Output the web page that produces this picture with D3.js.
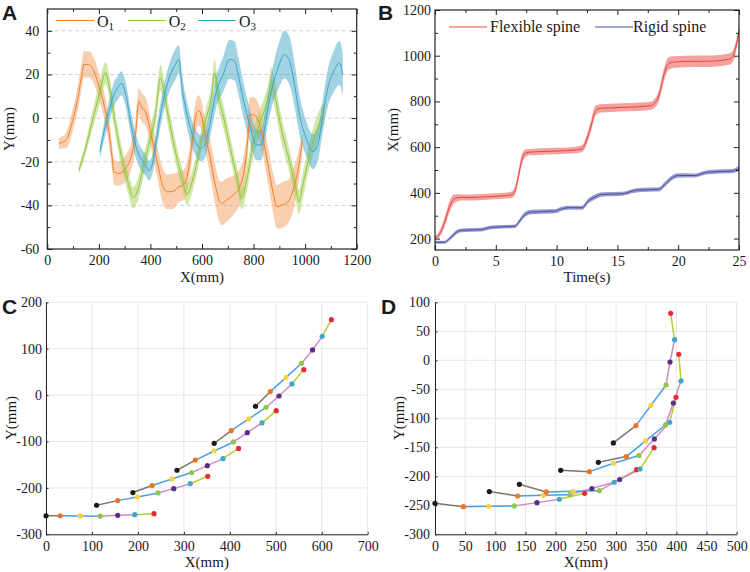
<!DOCTYPE html>
<html><head><meta charset="utf-8">
<script src="https://cdn.jsdelivr.net/npm/d3@7"></script>
<style>
body{margin:0;background:#fff}
svg{display:block}
text{font-family:"Liberation Serif","Times New Roman",serif;fill:#1a1a1a}
.plab{font-family:"Liberation Sans",Arial,sans-serif;font-weight:bold;font-size:21px}
</style>
</head><body>
<svg id="c" width="750" height="572"></svg>
<script>
// ---------------- Panel A data ----------------
const o1X = [45,65,78,97,116,132,142,161,181,200,220,239,252,258,278,303,323,342,355,368,381,400,426,452,465,490,510,529,550,565,578,588,598,611,630,649,669,675,694,720,746,765,778,785,798,817,836,856,875,891,907,933,959,978,989];
const o1Y = [-11.5,-10.8,-9.2,-1.6,7.7,18.4,24.6,24.6,21.5,14.6,6.1,-6.2,-18.5,-24.6,-25.4,-23.1,-18.5,-7.7,7.7,4.6,3.0,-6.2,-20,-32.3,-33.8,-33.5,-31.5,-30.7,-22,-8,2,3.5,1,-7,-17,-29.2,-38.4,-39.2,-37.7,-35.4,-31.5,-23,-9.2,1.5,1.5,-0.8,-9.2,-21.5,-33.8,-40.7,-40,-38.4,-30.7,-20,-10.8];
const o1W = [2.5,3,4,5,5.5,6,6,6,6,6,6,6,6,6,5.5,6,6,6.5,6,6.5,6.5,6.5,7,8,8,8,7,7,7,7,7,7,7,7,8,9,9.5,10,10,9,8,8,8,8,8,8,8,8.5,9,10,10.5,10,9,7,5];
const o2X = [122.7,148.5,174,200,226,239,258,284,316,333,348.5,374,400,419.5,439,452,471,497,523,542,561.5,581,595,617,636,649,662,681.5,707,733,755,772,798,836,856,869,882,907,940,965,976,991,1017,1043,1069,1075];
const o2Y = [-23.8,-13.8,-1.6,10,20.7,15.3,1.5,-15.4,-30.7,-36.6,-33.8,-21.5,-9.2,1.5,18.4,12.3,0,-15.4,-27.7,-35,-29.2,-20,-11,0,9.2,20.7,10.7,1.5,-12.3,-26,-36.9,-29.2,-12.3,1.5,9.2,16.9,10.7,-4.6,-20,-33,-38.4,-30.7,-16.9,-6.2,1.5,3];
const o2W = [2,3,4,5,5,5,5,5,5,5,5,5,5,5.5,6,6,5.5,5,5,5,5,5,5,5,5.5,6,6,5.5,5,5,5,5.5,6,6,6,6.5,6.5,6,5.5,5.5,5.5,6,6,6,5,4];
const o3X = [204,220,239,258,278,287,303,323,342,362,381,394,407,420,439,458,478,497,510,523,542,568,594,611,630,656,682,707,727,740,759,785,811,830,849,869,895,920,940,959,978,1004,1030,1049,1069,1088,1114,1133,1146];
const o3Y = [-15.4,-6.2,3,10.7,14.6,16,11.5,-1.6,-12.3,-18.5,-21.5,-24.1,-21.5,-12.3,1.5,12.3,20,24.6,26.9,13.8,1.5,-9.2,-13.8,-12.3,-3.1,12.3,20,26.9,26.1,20,9.2,-3.1,-12.3,-12.3,0,12.3,23,29.2,26.1,15.3,1.5,-9.2,-15.4,-12.3,1.5,13.8,22.2,25.3,20];
const o3W = [3,4,5,5.5,5.5,5.5,5.5,5.5,5.5,5,5,4.5,4.5,5,5.5,6,6.5,7,6.5,6,6,6,6,6,6.5,7,8,9,9,8.5,8,7.5,7,7,7,8,10,11,11,10,9,8,8,7.5,7.5,8.5,9.5,10,10];
const aXTicks = [0,200,400,600,800,1000,1200];
const aYTicks = [-60,-40,-20,0,20,40];
const aGrid = [-40,-20,0,20,40];
const aSeriesNames = ["O","O","O"];
const aSeriesSubs = ["1","2","3"];

// ---------------- Panel B data ----------------
const flexT = [0,0.3,0.6,0.9,1.2,1.5,1.8,2.2,3,4,5,6,6.3,6.6,6.9,7.2,7.5,7.8,8.5,10,11.5,12.1,12.5,12.9,13.2,13.6,14.5,16,17.8,18.1,18.4,18.8,19.2,19.6,20.5,22.5,24.1,24.4,24.7,25];
const flexX = [205,215,245,290,340,370,378,380,380,382,385,389,392,412,485,555,575,578,580,583,587,594,636,707,760,770,772,775,782,794,823,911,965,972,975,976,984,991,1028,1110];
const flexSd = [8,12,18,22,24,22,16,13,13,13,13,13,14,18,22,22,16,14,14,14,14,15,20,24,22,18,18,18,18,20,24,28,28,26,25,25,25,25,25,22];
const rigidT = [0,0.8,1.1,1.4,1.9,2.2,3.8,4.4,4.9,6.6,6.85,7.1,7.4,7.95,9.9,10.4,11,12.1,12.6,13.2,13.7,15.4,16.2,16.7,18.4,18.9,19.5,20,21.4,22.2,22.8,24.4,25];
const rigidX = [184,184,195,210,232,236,239,247,250,254,269,288,305,316,320,330,335,335,364,383,393,396,407,412,415,437,466,476,476,488,492,495,508];
const rigidSd = [7,7,8,9,9,8,8,8,8,8,9,11,11,10,9,9,9,9,11,11,10,9,9,9,9,10,11,10,9,9,9,9,12];
const bXTicks = [0,5,10,15,20,25];
const bYTicks = [200,400,600,800,1000,1200];
const bNames = ["Flexible spine","Rigid spine"];

// ---------------- Panel C / D data ----------------
const cX = [
  [0,31,75,118,156,193,235],
  [110,156,199,244,278,314,352],
  [189,231,274,317,351,385,419],
  [285,325,366,408,438,470,501],
  [366,403,441,479,507,535,561],
  [456,488,522,556,580,601,621]
];
const cY = [
  [-260,-260,-260.5,-261,-259,-257.6,-255.5],
  [-237.4,-227.4,-219.5,-210.9,-201.6,-190.9,-175],
  [-210,-195,-180.7,-167,-152,-137,-115],
  [-162,-140,-120.4,-101,-81,-60,-33.5],
  [-104,-76.6,-51.4,-26.3,-1.9,24,54.9],
  [-24,7.5,37.6,68.5,97.3,126.7,162.6]
];
const dX = [
  [0,47,89,131.5,169,206,248],
  [90,137,179.6,223.8,260,297,334],
  [139.8,184.5,228.7,272.4,306,339.8,363],
  [208.3,255.8,296,338,363.5,389,399.4],
  [270.7,317,349,382,395,407.7,404],
  [295.6,333,358,383,389.5,397,390.6]
];
const dY = [
  [-246.6,-252.3,-251.7,-251,-245.4,-239.7,-229.3],
  [-226.4,-234,-232.8,-231.6,-221,-210.3,-188.5],
  [-213.8,-227,-225.9,-224.7,-205.7,-187.4,-150.6],
  [-189.7,-192,-177.6,-164,-135.6,-106.9,-63.8],
  [-175.9,-166,-139,-111.5,-73.6,-35.6,10.3],
  [-142.5,-112.6,-77.6,-42.5,-2.9,35.6,81]
];
const cXTicks = [0,100,200,300,400,500,600,700];
const cYTicks = [-300,-200,-100,0,100,200];
const dXTicks = [0,50,100,150,200,250,300,350,400,450,500];
const dYTicks = [-300,-250,-200,-150,-100,-50,0,50,100];

// ---------------- styles ----------------
const aLineCol = ["#f07f2a","#8dc63f","#3ba6c8"];
const aBandCol = ["#f5a060","#a8d054","#44a8c8"];
const ptCol = ["#1a1a1a","#f07522","#ffd23c","#8cc84a","#5b2d8a","#3eaacb","#e8283c"];
const segCol = ["#7d7866","#4a9fe0","#4a9fe0","#d08bc4","#d08bc4","#b7cd2a"];
const fmt = d => String(d);

const svg = d3.select("#c");

function boxAxes(g, x, y, xt, xm, yt, ym, xPad, yPad, fs) {
  const [l, r] = x.range(), [b, t] = y.range();
  const mk = (axis, tr, vals, size, labels) => {
    const a = axis.tickValues(vals).tickSizeInner(size).tickSizeOuter(0);
    a.tickFormat(labels ? fmt : "");
    const gg = g.append("g").attr("transform", tr).call(a);
    gg.select(".domain").remove();
    gg.selectAll("line").attr("stroke", "#222").attr("stroke-width", 1);
    gg.selectAll("text").style("font-size", fs + "px").style("font-family", '"Liberation Serif",serif').attr("fill", "#1a1a1a");
    return gg;
  };
  mk(d3.axisBottom(x).tickPadding(xPad), `translate(0,${b})`, xt, -5, true);
  mk(d3.axisBottom(x), `translate(0,${b})`, xm, -3, false);
  mk(d3.axisTop(x), `translate(0,${t})`, xt, -5, false);
  mk(d3.axisTop(x), `translate(0,${t})`, xm, -3, false);
  mk(d3.axisLeft(y).tickPadding(yPad), `translate(${l},0)`, yt, -5, true);
  mk(d3.axisLeft(y), `translate(${l},0)`, ym, -3, false);
  mk(d3.axisRight(y), `translate(${r},0)`, yt, -5, false);
  mk(d3.axisRight(y), `translate(${r},0)`, ym, -3, false);
  g.append("rect").attr("x", l).attr("y", t).attr("width", r - l).attr("height", b - t)
    .attr("fill", "none").attr("stroke", "#222").attr("stroke-width", 1.2);
}

// ================= Panel A =================
{
  const g = svg.append("g");
  const x = d3.scaleLinear().domain([0, 1200]).range([47.3, 356.7]);
  const y = d3.scaleLinear().domain([-60, 50]).range([249, 9]);
  g.selectAll(".grid").data(aGrid).join("line")
    .attr("x1", 47.3).attr("x2", 356.7).attr("y1", d => y(d)).attr("y2", d => y(d))
    .attr("stroke", "#c4c4c4").attr("stroke-dasharray", "4,3").attr("stroke-width", 0.8);
  const series = [[o1X, o1Y, o1W], [o2X, o2Y, o2W], [o3X, o3Y, o3W]].map(([xs, ys, ws]) =>
    xs.map((v, i) => ({ x: v, y: ys[i], w: ws[i] })));
  const area = d3.area().x(d => x(d.x)).y0(d => y(d.y - d.w)).y1(d => y(d.y + d.w)).curve(d3.curveMonotoneX);
  const line = d3.line().x(d => x(d.x)).y(d => y(d.y)).curve(d3.curveMonotoneX);
  series.forEach((s, i) => g.append("path").attr("d", area(s)).attr("fill", aBandCol[i]).attr("fill-opacity", 0.5));
  series.forEach((s, i) => g.append("path").attr("d", line(s)).attr("fill", "none").attr("stroke", aLineCol[i]).attr("stroke-width", 1));
  boxAxes(g, x, y, aXTicks, d3.range(100, 1200, 200), aYTicks, d3.range(-50, 50, 20), 6, 8, 14);
  // legend
  const lx = [56, 127.7, 198];
  aSeriesNames.forEach((n, i) => {
    g.append("line").attr("x1", lx[i]).attr("x2", lx[i] + 38).attr("y1", 20.5).attr("y2", 20.5)
      .attr("stroke", aLineCol[i]).attr("stroke-width", 1.2);
    const t = g.append("text").attr("x", lx[i] + 41).attr("y", 26.5).style("font-size", "16px");
    t.append("tspan").text(n);
    t.append("tspan").attr("dy", 3).style("font-size", "11px").text(aSeriesSubs[i]);
  });
  g.append("text").attr("x", 202).attr("y", 282).attr("text-anchor", "middle").style("font-size", "15px").text("X(mm)");
  g.append("text").attr("transform", "translate(13.5,129) rotate(-90)").attr("text-anchor", "middle").style("font-size", "15px").text("Y(mm)");
  g.append("text").attr("class", "plab").attr("x", 2).attr("y", 20).text("A");
}

// ================= Panel B =================
{
  const g = svg.append("g");
  const x = d3.scaleLinear().domain([0, 25]).range([435, 739]);
  const y = d3.scaleLinear().domain([150, 1200]).range([250, 10]);
  const mkS = (ts, vs, sd) => ts.map((t, i) => ({ t, v: vs[i], s: sd[i] }));
  const sets = [mkS(flexT, flexX, flexSd), mkS(rigidT, rigidX, rigidSd)];
  const lineCols = ["#e8453c", "#4650a2"], bandCols = ["#ee7b76", "#6f74bb"];
  const area = d3.area().x(d => x(d.t)).y0(d => y(d.v - d.s)).y1(d => y(d.v + d.s)).curve(d3.curveMonotoneX);
  const line = d3.line().x(d => x(d.t)).y(d => y(d.v)).curve(d3.curveMonotoneX);
  sets.forEach((s, i) => g.append("path").attr("d", area(s)).attr("fill", bandCols[i]).attr("fill-opacity", 0.7));
  sets.forEach((s, i) => g.append("path").attr("d", line(s)).attr("fill", "none").attr("stroke", lineCols[i]).attr("stroke-width", 1));
  boxAxes(g, x, y, bXTicks, d3.range(2.5, 25, 5), bYTicks, d3.range(300, 1200, 200), 6, 4, 14);
  const lx = [449, 595];
  const tx = [490, 633];
  bNames.forEach((n, i) => {
    g.append("line").attr("x1", lx[i]).attr("x2", lx[i] + 38).attr("y1", 27).attr("y2", 27)
      .attr("stroke", lineCols[i]).attr("stroke-width", 1.2);
    g.append("text").attr("x", tx[i]).attr("y", 31.5).style("font-size", "16px").text(n);
  });
  g.append("text").attr("x", 587).attr("y", 282).attr("text-anchor", "middle").style("font-size", "15px").text("Time(s)");
  g.append("text").attr("transform", "translate(398,130) rotate(-90)").attr("text-anchor", "middle").style("font-size", "15px").text("X(mm)");
  g.append("text").attr("class", "plab").attr("x", 378).attr("y", 20).text("B");
}

// ================= Panels C & D =================
function chainPanel(xsAll, ysAll, xDom, yDom, xr, xt, yt, yPad, label, lblX, ytitleX) {
  const g = svg.append("g");
  const x = d3.scaleLinear().domain(xDom).range(xr);
  const y = d3.scaleLinear().domain(yDom).range([534.3, 302.3]);
  g.selectAll(".gx").data(xt).join("line").attr("x1", d => x(d)).attr("x2", d => x(d))
    .attr("y1", 302.3).attr("y2", 534.3).attr("stroke", "#e6e6e6").attr("stroke-width", 1);
  g.selectAll(".gy").data(yt).join("line").attr("y1", d => y(d)).attr("y2", d => y(d))
    .attr("x1", xr[0]).attr("x2", xr[1]).attr("stroke", "#e6e6e6").attr("stroke-width", 1);
  const ax = g.append("g").attr("transform", "translate(0,534.3)")
    .call(d3.axisBottom(x).tickValues(xt).tickFormat(fmt).tickSizeInner(-2.5).tickSizeOuter(0).tickPadding(7));
  const ay = g.append("g").attr("transform", `translate(${xr[0]},0)`)
    .call(d3.axisLeft(y).tickValues(yt).tickFormat(fmt).tickSizeInner(-2.5).tickSizeOuter(0).tickPadding(yPad));
  [ax, ay].forEach(a => {
    a.select(".domain").attr("stroke", "#262626").attr("stroke-width", 1);
    a.selectAll("line").attr("stroke", "#262626");
    a.selectAll("text").style("font-size", "14px").style("font-family", '"Liberation Serif",serif').attr("fill", "#1a1a1a");
  });
  xsAll.forEach((xs, k) => {
    const ys = ysAll[k];
    for (let i = 0; i < xs.length - 1; i++) {
      g.append("line").attr("x1", x(xs[i])).attr("y1", y(ys[i])).attr("x2", x(xs[i + 1])).attr("y2", y(ys[i + 1]))
        .attr("stroke", segCol[i]).attr("stroke-width", 1.5);
    }
  });
  xsAll.forEach((xs, k) => {
    const ys = ysAll[k];
    xs.forEach((v, i) => g.append("circle").attr("cx", x(v)).attr("cy", y(ys[i])).attr("r", 2.6).attr("fill", ptCol[i]));
  });
  const cx = (xr[0] + xr[1]) / 2;
  g.append("text").attr("x", cx).attr("y", 567).attr("text-anchor", "middle").style("font-size", "15px").text("X(mm)");
  g.append("text").attr("transform", `translate(${ytitleX},418) rotate(-90)`).attr("text-anchor", "middle").style("font-size", "15px").text("Y(mm)");
  g.append("text").attr("class", "plab").attr("x", lblX).attr("y", 314).text(label);
}
chainPanel(cX, cY, [0, 700], [-300, 200], [46, 367.7], cXTicks, cYTicks, 4, "C", 2, 16);
chainPanel(dX, dY, [0, 500], [-300, 100], [435, 736.7], dXTicks, dYTicks, 5, "D", 381, 404);
</script>
</body></html>
